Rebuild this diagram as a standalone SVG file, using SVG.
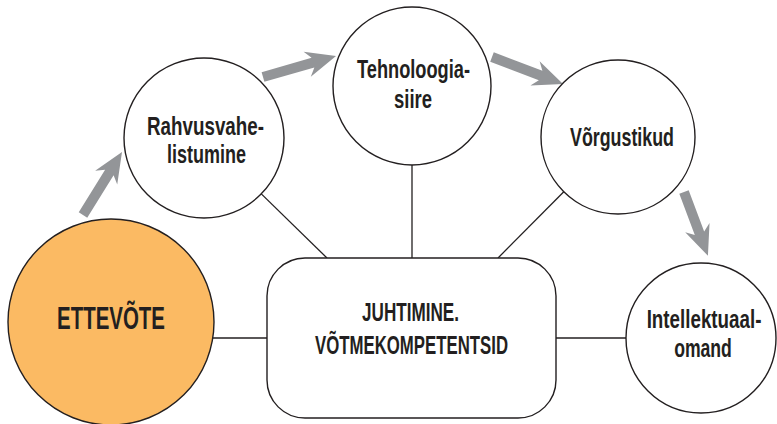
<svg xmlns="http://www.w3.org/2000/svg" width="777" height="424" viewBox="0 0 777 424">
  <style>
    .node { fill: #ffffff; stroke: #231f20; stroke-width: 1.4; }
    .main { fill: #fbba63; stroke: #231f20; stroke-width: 1.4; }
    .link { stroke: #231f20; stroke-width: 1.3; fill: none; }
    .flow { fill: #939598; }
    .label { font-family: "Liberation Sans Narrow", "Liberation Sans", Arial, sans-serif; font-weight: bold; fill: #231f20; text-anchor: middle; }
    .s25 { font-size: 26.5px; }
    .s32 { font-size: 32px; }
  </style>

  <!-- connectors: spokes to the central box and the flow arrows -->
  <g id="connectors">
    <line class="link" x1="212.7" y1="338" x2="267" y2="338"/>
    <line class="link" x1="556" y1="338" x2="626" y2="338"/>
    <line class="link" x1="412" y1="165" x2="412" y2="258"/>
    <line class="link" x1="261.3" y1="193.9" x2="327" y2="258"/>
    <line class="link" x1="563.8" y1="191.7" x2="498" y2="258"/>

    <polygon class="flow" transform="translate(83,215) rotate(-58.2)" points="0,-5 50,-5 44,-13 74,0 44,13 50,5 0,5"/>
    <polygon class="flow" transform="translate(263,77) rotate(-16.05)" points="0,-5 52,-5 46,-13 76,0 46,13 52,5 0,5"/>
    <polygon class="flow" transform="translate(492,57) rotate(20.8)" points="0,-5 52,-5 46,-13 76,0 46,13 52,5 0,5"/>
    <polygon class="flow" transform="translate(684,192) rotate(69.4)" points="0,-5 44,-5 38,-13 68,0 38,13 44,5 0,5"/>
  </g>

  <g id="ettevote">
    <circle class="main" cx="111" cy="322" r="103"/>
    <text class="label s32" x="111" y="329" textLength="108" lengthAdjust="spacingAndGlyphs">ETTEVÕTE</text>
  </g>

  <g id="rahvusvahelistumine">
    <circle class="node" cx="204" cy="138" r="80"/>
    <text class="label s25" x="205.5" y="135" textLength="117" lengthAdjust="spacingAndGlyphs">Rahvusvahe-</text>
    <text class="label s25" x="206.5" y="163" textLength="79" lengthAdjust="spacingAndGlyphs">listumine</text>
  </g>

  <g id="tehnoloogiasiire">
    <circle class="node" cx="412" cy="86" r="79"/>
    <text class="label s25" x="413.5" y="78" textLength="113" lengthAdjust="spacingAndGlyphs">Tehnoloogia-</text>
    <text class="label s25" x="413" y="108" textLength="38" lengthAdjust="spacingAndGlyphs">siire</text>
  </g>

  <g id="vorgustikud">
    <circle class="node" cx="618" cy="137" r="77"/>
    <text class="label s25" x="622" y="146" textLength="104" lengthAdjust="spacingAndGlyphs">Võrgustikud</text>
  </g>

  <g id="intellektuaalomand">
    <circle class="node" cx="701" cy="338" r="75"/>
    <!-- narrowed horizontally so the long word sits inside the circle -->
    <text class="label s25" transform="translate(704,328) scale(0.75,1)" x="0" y="0" textLength="153" lengthAdjust="spacingAndGlyphs">Intellektuaal-</text>
    <text class="label s25" transform="translate(703,357) scale(0.75,1)" x="0" y="0" textLength="77" lengthAdjust="spacingAndGlyphs">omand</text>
  </g>

  <g id="juhtimine">
    <rect class="node" x="267" y="258" width="289" height="160" rx="38" ry="38"/>
    <text class="label s25" x="410.5" y="321" textLength="97" lengthAdjust="spacingAndGlyphs">JUHTIMINE.</text>
    <text class="label s25" x="411.5" y="354" textLength="193" lengthAdjust="spacingAndGlyphs">VÕTMEKOMPETENTSID</text>
  </g>
</svg>
